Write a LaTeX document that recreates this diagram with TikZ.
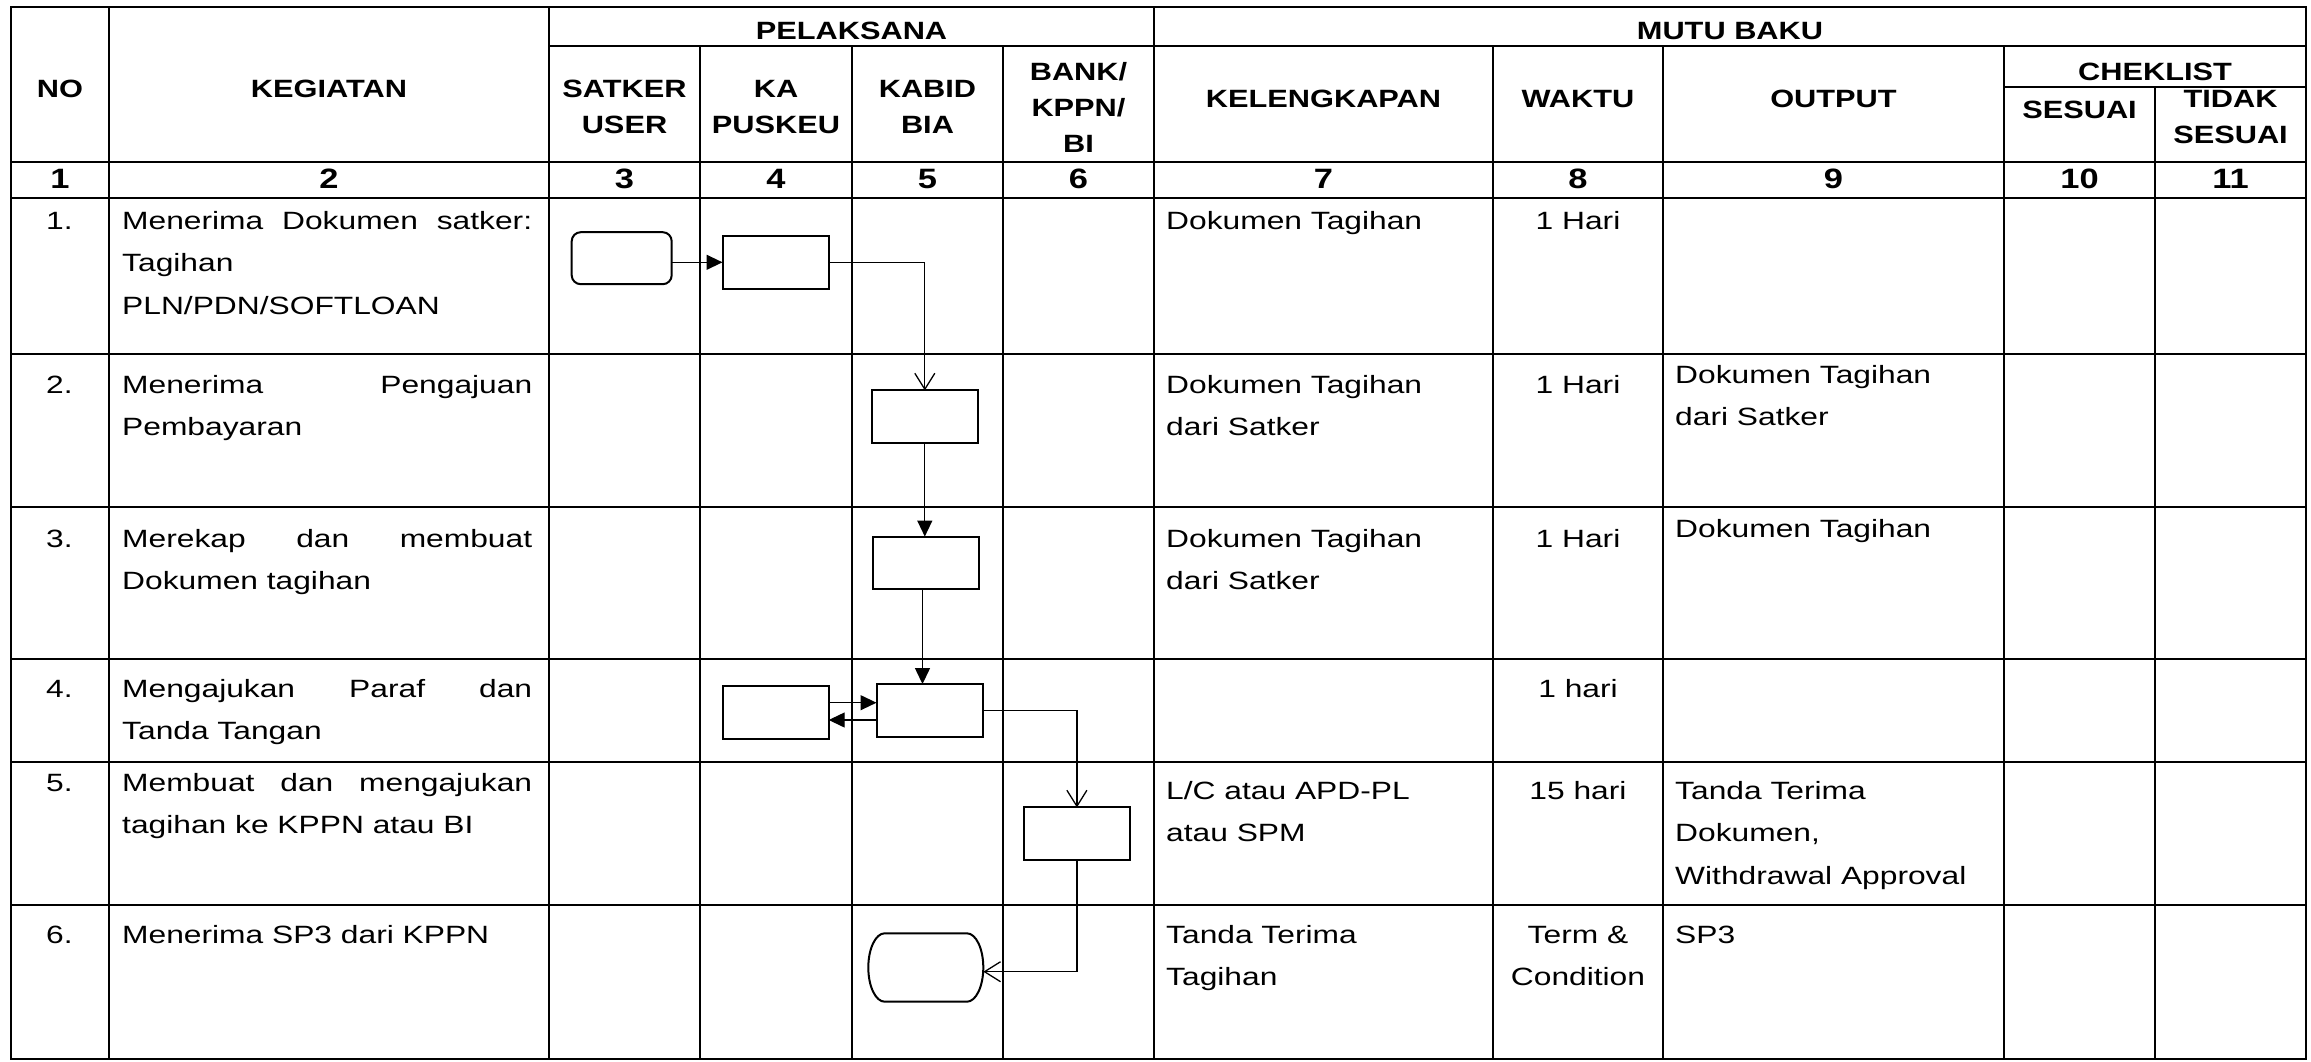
\documentclass[tikz,border=0pt]{standalone}
\usepackage{fontspec}
\setmainfont[FakeStretch=1.27]{Liberation Sans}
\newfontfamily\hdfam[FakeStretch=1.23]{Liberation Sans}
\usetikzlibrary{arrows.meta}
\newcommand\bodyf{\fontsize{25}{42.5}\selectfont}
\newcommand\hdf{\hdfam\fontsize{25}{36}\selectfont\bfseries}
\newcommand\numf{\hdfam\fontsize{28}{34}\selectfont\bfseries}
\newcommand\jl[1]{\makebox[410pt][s]{#1}}
\begin{document}
\begin{tikzpicture}[x=1pt,y=-1pt,
  grid/.style={line width=2pt},
  hgrid/.style={line width=2.6pt},
  box/.style={draw, line width=2pt, inner sep=0pt, outer sep=0pt, rectangle, minimum width=106pt, minimum height=52.5pt},
  term/.style={box, rounded corners=9pt, minimum width=100pt, minimum height=52pt},
  conn/.style={line width=1.3pt},
  fa/.style={conn, -{Triangle[length=16pt,width=15pt]}},
  oa/.style={conn, -{Straight Barb[length=16pt,width=20pt]}},
  txt/.style={anchor=base west, inner sep=0pt, font=\bodyf, align=left},
  ctr/.style={anchor=base, inner sep=0pt, font=\bodyf, align=center},
  hd/.style={anchor=base, inner sep=0pt, font=\hdf, align=center},
  num/.style={anchor=base, inner sep=0pt, font=\numf},
]
\useasboundingbox (0,0) rectangle (2311,1061);
\fill[white] (0,0) rectangle (2311,1061);
% table grid
\foreach \x in {109,549,1154} \draw[grid] (\x,7) -- (\x,1059);
\foreach \x in {700,852,1003,1493,1663,2004} \draw[grid] (\x,46) -- (\x,1059);
\draw[grid] (2155,87) -- (2155,1059);
\draw[hgrid] (549,46) -- (2306,46);
\draw[hgrid] (2004,87) -- (2306,87);
\foreach \y in {162,198,354,507,659,762,905} \draw[hgrid] (11,\y) -- (2306,\y);
\draw[hgrid] (11,7) rectangle (2306,1059);
% header (multi-line nodes: anchor at last baseline)
\node[hd] (hNO) at (60,97) {NO};
\node[hd] (hKEG) at (329,97) {KEGIATAN};
\node[hd] (hPEL) at (851.5,39) {PELAKSANA};
\node[hd] (hMUTU) at (1730,39) {MUTU BAKU};
\node[hd] (hSAT) at (624.5,133) {SATKER\\USER};
\node[hd] (hKA) at (776,133) {KA\\PUSKEU};
\node[hd] (hKAB) at (927.5,133) {KABID\\BIA};
\node[hd] (hBANK) at (1078.5,152) {BANK/\\KPPN/\\BI};
\node[hd] (hKEL) at (1323.5,107) {KELENGKAPAN};
\node[hd] (hWAK) at (1578,107) {WAKTU};
\node[hd] (hOUT) at (1833.5,107) {OUTPUT};
\node[hd] (hCHK) at (2155,80) {CHEKLIST};
\node[hd] (hSES) at (2079.5,118) {SESUAI};
\node[hd] (hTID) at (2230.5,143) {TIDAK\\SESUAI};
% column numbers
\node[num] (n1) at (60,188) {1};
\node[num] (n2) at (329,188) {2};
\node[num] (n3) at (624.5,188) {3};
\node[num] (n4) at (776,188) {4};
\node[num] (n5) at (927.5,188) {5};
\node[num] (n6) at (1078.5,188) {6};
\node[num] (n7) at (1323.5,188) {7};
\node[num] (n8) at (1578,188) {8};
\node[num] (n9) at (1833.5,188) {9};
\node[num] (n10) at (2079.5,188) {10};
\node[num] (n11) at (2230.5,188) {11};
% row numbers
\node[txt] (r1) at (46,229) {1.};
\node[txt] (r2) at (46,393) {2.};
\node[txt] (r3) at (46,547) {3.};
\node[txt] (r4) at (46,697) {4.};
\node[txt] (r5) at (46,791) {5.};
\node[txt] (r6) at (46,943) {6.};
% kegiatan
\node[txt] (k1) at (122,314) {\jl{Menerima Dokumen satker:}\\Tagihan\\PLN/PDN/SOFTLOAN};
\node[txt] (k2) at (122,435.5) {\jl{Menerima Pengajuan}\\Pembayaran};
\node[txt] (k3) at (122,589.5) {\jl{Merekap dan membuat}\\Dokumen tagihan};
\node[txt] (k4) at (122,739.5) {\jl{Mengajukan Paraf dan}\\Tanda Tangan};
\node[txt] (k5) at (122,833.5) {\jl{Membuat dan mengajukan}\\tagihan ke KPPN atau BI};
\node[txt] (k6) at (122,943) {Menerima SP3 dari KPPN};
% kelengkapan
\node[txt] (l1) at (1166,229) {Dokumen Tagihan};
\node[txt] (l2) at (1166,435.5) {Dokumen Tagihan\\dari Satker};
\node[txt] (l3) at (1166,589.5) {Dokumen Tagihan\\dari Satker};
\node[txt] (l5) at (1166,841.5) {L/C atau APD-PL\\atau SPM};
\node[txt] (l6) at (1166,985.5) {Tanda Terima\\Tagihan};
% waktu
\node[ctr] (w1) at (1578,229) {1 Hari};
\node[ctr] (w2) at (1578,393) {1 Hari};
\node[ctr] (w3) at (1578,547) {1 Hari};
\node[ctr] (w4) at (1578,697) {1 hari};
\node[ctr] (w5) at (1578,799) {15 hari};
\node[ctr] (w6) at (1578,985.5) {Term \&\\Condition};
% output
\node[txt] (o2) at (1675,425.5) {Dokumen Tagihan\\dari Satker};
\node[txt] (o3) at (1675,537) {Dokumen Tagihan};
\node[txt] (o5) at (1675,884) {Tanda Terima\\Dokumen,\\Withdrawal Approval};
\node[txt] (o6) at (1675,943) {SP3};
% flow shapes
\node[term] (t1) at (621.7,258.2) {};
\node[box] (b1) at (775.5,262.3) {};
\node[box] (b2) at (924.8,416.7) {};
\node[box] (b3) at (925.5,562.8) {};
\node[box] (b4a) at (775.7,712.5) {};
\node[box] (b4b) at (929.5,710.3) {};
\node[box] (b5) at (1076.9,833.7) {};
\node[inner sep=0pt, outer sep=0pt, minimum width=115pt, minimum height=68.4pt] (t6) at (925.8,967.5) {};
\draw[line width=2pt] ([xshift=16.4pt]t6.north west) -- ([xshift=-16.4pt]t6.north east)
  arc[start angle=-90, end angle=90, x radius=16.4, y radius=34.2]
  -- ([xshift=16.4pt]t6.south west)
  arc[start angle=90, end angle=270, x radius=16.4, y radius=34.2] -- cycle;
% connectors
\draw[fa] (b1.west -| t1.east) -- (b1.west);
\draw[oa] (b1.east) -| (b2.north);
\draw[fa] (b2.south) -- (b2.south |- b3.north);
\draw[fa] ([xshift=-3pt]b3.south) -- ([xshift=-3pt]b3.south |- b4b.north);
\draw[fa] ([yshift=7.6pt]b4b.west -| b4a.east) -- ([yshift=7.6pt]b4b.west);
\draw[fa] ([yshift=-9.7pt]b4b.west) -- ([yshift=-9.7pt]b4b.west -| b4a.east);
\draw[oa] (b4b.east) -| (b5.north);
\draw[oa] (b5.south) |- ([yshift=-4.2pt]t6.east);
\end{tikzpicture}
\end{document}
